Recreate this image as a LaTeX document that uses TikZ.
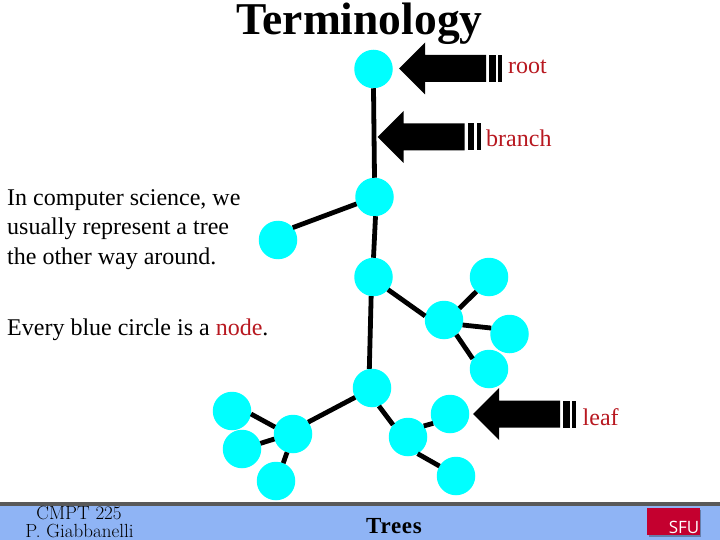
\documentclass[tikz,border=0pt]{standalone}
\usepackage{fontspec}
\setmainfont{Liberation Serif}
\newfontfamily\lmfont{Latin Modern Roman}
\definecolor{nodecyan}{HTML}{00FFFF}
\definecolor{termred}{HTML}{B81820}
\definecolor{barblue}{HTML}{8FB4F5}
\definecolor{sfured}{HTML}{C4002F}
\tikzset{
  treenode/.style={circle,fill=nodecyan,minimum size=38.5pt,inner sep=0pt,outer sep=0pt},
  treeedge/.style={draw=black,line width=4.8pt},
  body/.style={anchor=base west,inner sep=0pt,font=\fontsize{24}{24}\selectfont},
  term/.style={body,text=termred},
  foot/.style={anchor=base,inner sep=0pt,font=\lmfont\fontsize{19}{19}\selectfont}
}
\newcommand{\blockarrow}[2]{%
  \begin{scope}[shift={(#1,#2)}]
    \fill (0,0) -- (26,-26) -- (26,-13.5) -- (87,-13.5) -- (87,13.5) -- (26,13.5) -- (26,26) -- cycle;
    \fill (90,-13.5) rectangle (96.5,13.5);
    \fill (99,-13.5) rectangle (103,13.5);
  \end{scope}}
\begin{document}
\begin{tikzpicture}[x=1pt,y=-1pt]
\useasboundingbox (0,0) rectangle (720,540);
\fill[white] (0,0) rectangle (720,540);
% footer
\fill[barblue] (0,505) rectangle (720,540);
\fill[black!65] (0,502) rectangle (720,505.5);
\fill[black!30!barblue] (648.5,509.5) rectangle (701,536.5);
\fill[sfured] (647,508) rectangle (700,535);
\node[anchor=base,inner sep=0pt,text=white,font=\fontspec{Open Sans}\fontsize{17}{17}\selectfont] (sfu) at (684,533) {SFU};
% nodes
\node[treenode] (r) at (373.5,69) {};
\node[treenode] (b) at (374.5,197) {};
\node[treenode] (l1) at (278,240) {};
\node[treenode] (c) at (373.5,277) {};
\node[treenode] (d) at (444,320) {};
\node[treenode] (d1) at (489,277) {};
\node[treenode] (d2) at (509.5,334) {};
\node[treenode] (d3) at (489,369) {};
\node[treenode] (e) at (372,388) {};
\node[treenode] (f) at (293,434) {};
\node[treenode] (f1) at (232,411) {};
\node[treenode] (f2) at (242,449) {};
\node[treenode] (f3) at (276,481) {};
\node[treenode] (g) at (408,437) {};
\node[treenode] (g1) at (450,414) {};
\node[treenode] (g2) at (456,476) {};
% edges, each leaving its node at the angle the picture shows
\foreach \a/\p/\b/\q in {r/-90/b/90,b/201.5/l1/40,b/-87/c/90,c/263/e/98.5,c/-41/d/168,
    d/37/d1/229,d/-15.5/d2/162,d/-50.4/d3/148.5,e/209/f/38,e/-69/g/141,
    f/159/f1/-9,f/195/f2/17,f/252/f3/68,g/35/g1/209,g/-60/g2/149}
  \draw[treeedge] (\a.\p) -- (\b.\q);
% block arrows
\blockarrow{399}{68.5}
\blockarrow{377.5}{137}
\blockarrow{473}{414}
% texts
\node[anchor=base,inner sep=0pt,font=\bfseries\fontsize{45.5}{46}\selectfont] (title) at (359.5,34.5) {Terminology};
\node[term] (troot) at (508,74) {root};
\node[term] (tbranch) at (486,147) {branch};
\node[term] (tleaf) at (582.5,425) {leaf};
\node[body] (t1) at (7,206) {In computer science, we};
\node[body] (t2) at (7,235) {usually represent a tree};
\node[body] (t3) at (7,264) {the other way around.};
\node[body] (t4) at (7,335) {Every blue circle is a \textcolor{termred}{node}.};
\node[foot] (f5) at (79,519) {CMPT 225};
\node[foot] (f6) at (79.5,537.5) {P. Giabbanelli};
\node[anchor=base,inner sep=0pt,font=\bfseries\addfontfeature{LetterSpace=3}\fontsize{23}{23}\selectfont] (trees) at (394,533) {Trees};
\end{tikzpicture}
\end{document}
